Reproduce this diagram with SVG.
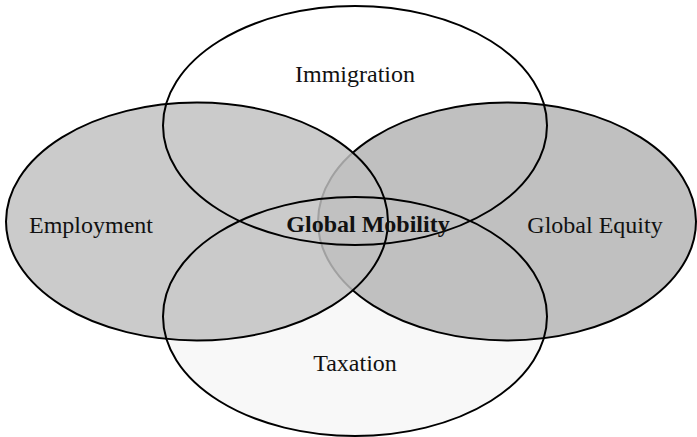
<svg xmlns="http://www.w3.org/2000/svg" width="697" height="437" viewBox="0 0 697 437">
<style>
  .lbl { font-family: "Liberation Serif", "Times New Roman", serif; font-size: 24px; fill: #111; text-anchor: middle; }
  .bold { font-weight: bold; }
  .ol { fill: none; stroke: #000; stroke-width: 2; }
</style>
<rect width="697" height="437" fill="#fff"/>
<g id="taxation">
  <ellipse cx="355" cy="316.5" rx="192" ry="119.5" fill="#f8f8f8"/>
  <text class="lbl" x="355" y="371">Taxation</text>
</g>
<g id="immigration">
  <ellipse cx="355" cy="125.5" rx="192" ry="119.5" fill="#fff"/>
  <text class="lbl" x="355" y="82">Immigration</text>
</g>
<g id="global-equity">
  <ellipse cx="507" cy="221.5" rx="189" ry="119" fill="#c0c0c0" stroke="#000" stroke-width="2"/>
  <text class="lbl" x="595" y="233">Global Equity</text>
</g>
<g id="employment">
  <ellipse cx="197" cy="221.5" rx="191" ry="119" fill="#c1c1c1" fill-opacity="0.83"/>
  <ellipse class="ol" cx="197" cy="221.5" rx="191" ry="119"/>
  <text class="lbl" x="91" y="233">Employment</text>
</g>
<g id="outlines">
  <ellipse class="ol" cx="355" cy="125.5" rx="192" ry="119.5"/>
  <ellipse class="ol" cx="355" cy="316.5" rx="192" ry="119.5"/>
</g>
<g id="global-mobility">
  <text class="lbl bold" x="368" y="232" font-size="23">Global Mobility</text>
</g>
</svg>
